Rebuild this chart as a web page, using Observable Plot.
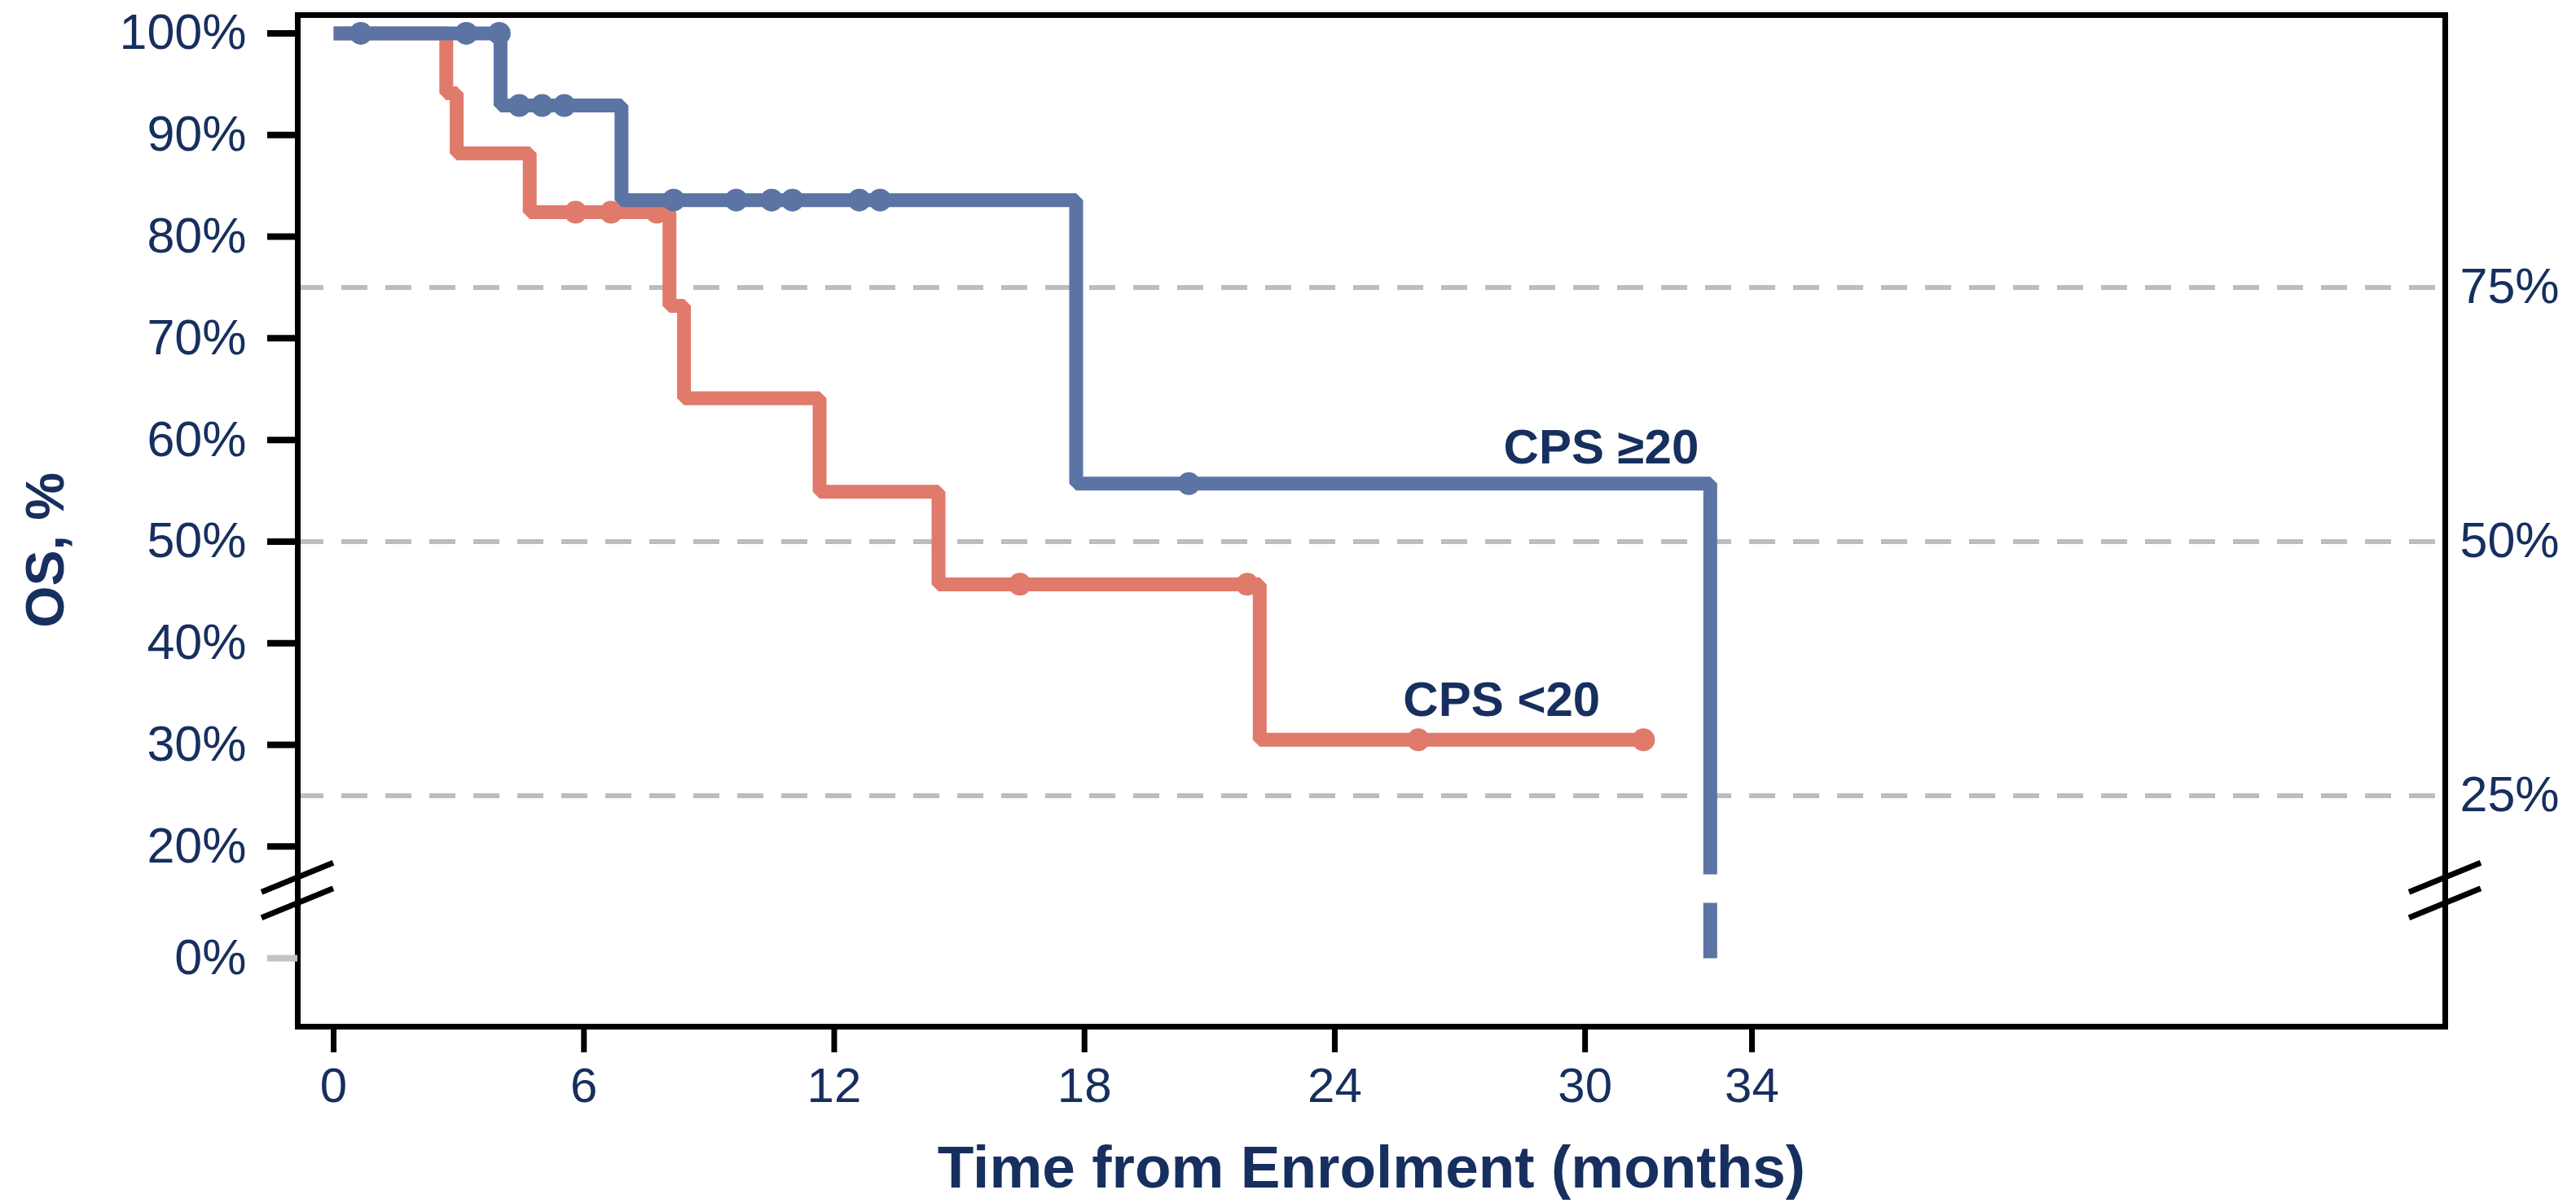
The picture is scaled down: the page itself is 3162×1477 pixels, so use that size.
<!DOCTYPE html>
<html>
<head>
<meta charset="utf-8">
<script src="https://cdn.jsdelivr.net/npm/d3@7"></script>
<script src="https://cdn.jsdelivr.net/npm/@observablehq/plot@0.6"></script>
<style>
  html, body { margin: 0; padding: 0; background: #ffffff; }
</style>
</head>
<body>
<div id="chart"></div>
<script>
// ---- Data ----
// CPS >=20 (blue): event times (months) and survival (%) after each event
const highTimes = [0, 4.0, 6.9, 17.8, 33.0];
const highSurv  = [100, 92.9, 83.6, 55.7, 0];
const highEnd   = 33.0;
const highCensor = [0.65, 3.18, 3.97, 4.45, 5.0, 5.53, 8.15, 9.65, 10.5, 11.0, 12.6, 13.1, 20.5];

// CPS <20 (red)
const lowTimes = [0, 2.7, 2.95, 4.7, 8.05, 8.4, 11.65, 14.5, 22.2];
const lowSurv  = [100, 94.1, 88.2, 82.4, 73.2, 64.1, 54.9, 45.8, 30.5];
const lowEnd   = 31.4;
const lowCensor = [5.8, 6.65, 7.75, 16.45, 21.9, 26.0, 31.4];

const xTicks = [0, 6, 12, 18, 24, 30, 34];
const yTicksLeft = [20, 30, 40, 50, 60, 70, 80, 90, 100];
const yTickZero = [0];
const refLines = [25, 50, 75];
const axisBreak = [15.0, 9.9];      // gap drawn in lines crossing the broken part of the y axis
const breakSlashes = [14.4, 9.8];   // where the "//" marks sit on both vertical axes

const highLabel = [{text: "CPS \u226520", x: 33.0, y: 55.7}];
const lowLabel = [{text: "CPS <20", x: 28.0, y: 30.5}];

const blue = "#5b74a3";
const red = "#e07a6b";
const navy = "#172f5f";

try {
// ---- broken y axis: values below 20% are compressed ----
const squeeze = 0.549;
const brk = v => (v >= 20 ? v : 20 - (20 - v) * squeeze);
const unbrk = u => (u >= 20 ? u : 20 - (20 - u) / squeeze);
const pct = u => Math.round(unbrk(u)) + "%";

// ---- helpers ----
function stepPoints(times, surv, end) {
  const pts = [];
  for (let i = 0; i < times.length; i++) {
    if (i > 0) {
      const a = surv[i - 1], b = surv[i];
      pts.push({t: times[i], s: a});
      if (a > axisBreak[0] && b < axisBreak[1]) {
        pts.push({t: times[i], s: axisBreak[0]});
        pts.push({t: times[i], s: NaN});
        pts.push({t: times[i], s: axisBreak[1]});
      }
    }
    pts.push({t: times[i], s: surv[i]});
  }
  if (end > times[times.length - 1]) pts.push({t: end, s: surv[surv.length - 1]});
  return pts.map(p => ({t: p.t, s: isNaN(p.s) ? NaN : brk(p.s)}));
}
function survAt(times, surv, t) {
  let s = surv[0];
  for (let i = 0; i < times.length; i++) if (times[i] <= t) s = surv[i];
  return s;
}
const highLine = stepPoints(highTimes, highSurv, highEnd);
const lowLine = stepPoints(lowTimes, lowSurv, lowEnd);
const highDots = highCensor.map(t => ({t, s: brk(survAt(highTimes, highSurv, t))}));
const lowDots = lowCensor.map(t => ({t, s: brk(survAt(lowTimes, lowSurv, t))}));

// ---- layout ----
const W = 3162, H = 1477;
const mL = 365, mR = 161, mT = 18, mB = 217;

function breakRender(index, scales, values, dim) {
  const g = d3.create("svg:g");
  for (const v of breakSlashes) {
    const y = scales.y(brk(v));
    for (const x of [dim.marginLeft, dim.width - dim.marginRight]) {
      g.append("line")
        .attr("x1", x - 44).attr("y1", y + 18)
        .attr("x2", x + 44).attr("y2", y - 18)
        .attr("stroke", "black").attr("stroke-width", 7);
    }
  }
  return g.node();
}

const chart = Plot.plot({
  width: W,
  height: H,
  marginLeft: mL,
  marginRight: mR,
  marginTop: mT,
  marginBottom: mB,
  style: {fontFamily: "'Liberation Sans', Arial, sans-serif", fontSize: "60px", background: "#fff", overflow: "visible"},
  x: {domain: [-0.86, 50.62], label: null},
  y: {domain: [2.28, 101.8], label: null},
  marks: [
    Plot.ruleY(refLines.map(brk), {stroke: "#bdbdbd", strokeWidth: 6, strokeDasharray: "32,22"}),
    Plot.frame({stroke: "black", strokeWidth: 7}),
    Plot.axisX({ticks: xTicks, tickSize: 32, strokeWidth: 7, stroke: "black", fill: navy,
                fontSize: 60, tickPadding: 18, label: null}),
    Plot.axisY({anchor: "left", ticks: yTicksLeft.map(brk), tickSize: 37, strokeWidth: 8, stroke: "black",
                fill: navy, fontSize: 61, tickPadding: 26, tickFormat: pct, label: null}),
    Plot.axisY({anchor: "left", ticks: yTickZero.map(brk), tickSize: 37, strokeWidth: 8, stroke: "#c4c4c4",
                fill: navy, fontSize: 61, tickPadding: 26, tickFormat: pct, label: null}),
    Plot.axisY({anchor: "right", ticks: refLines.map(brk), tickSize: 0, fill: navy,
                fontSize: 61, tickPadding: 18, tickFormat: pct, label: null}),
    breakRender,
    Plot.line(lowLine, {x: "t", y: "s", stroke: red, strokeWidth: 17, strokeLinejoin: "miter", strokeLinecap: "butt"}),
    Plot.dot(lowDots, {x: "t", y: "s", r: 14, fill: red}),
    Plot.line(highLine, {x: "t", y: "s", stroke: blue, strokeWidth: 17, strokeLinejoin: "miter", strokeLinecap: "butt"}),
    Plot.dot(highDots, {x: "t", y: "s", r: 14, fill: blue}),
    Plot.text(highLabel, {x: "x", y: d => brk(d.y), text: "text", textAnchor: "end", dx: -14, dy: -44,
              fontSize: 60, fontWeight: "bold", fill: navy}),
    Plot.text(lowLabel, {x: "x", y: d => brk(d.y), text: "text", textAnchor: "middle", dx: 0, dy: -49,
              fontSize: 60, fontWeight: "bold", fill: navy}),
    Plot.text(["OS, %"], {frameAnchor: "left", textAnchor: "middle", lineAnchor: "middle", dx: -309, dy: 36,
              rotate: -90, text: d => d, fontSize: 66, fontWeight: "bold", fill: navy}),
    Plot.text(["Time from Enrolment (months)"], {frameAnchor: "bottom", lineAnchor: "middle", dy: 174,
              text: d => d, fontSize: 73, fontWeight: "bold", fill: navy})
  ]
});
document.getElementById("chart").appendChild(chart);
} catch (e) {
  document.body.insertAdjacentHTML("beforeend", "<pre style='font-size:40px'>" + (e && e.stack || e) + "</pre>");
}
</script>
</body>
</html>
